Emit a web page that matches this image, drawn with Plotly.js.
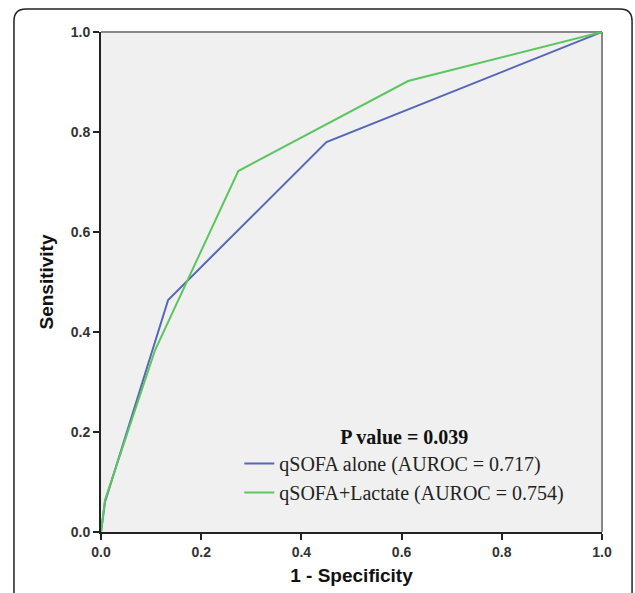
<!DOCTYPE html>
<html>
<head>
<meta charset="utf-8">
<script src="https://cdn.plot.ly/plotly-3.0.1.min.js"></script>
<style>html,body{margin:0;padding:0;background:#fff;}#chart{width:635px;height:593px;}</style>
</head>
<body>
<div id="chart"></div>
<script>
const seriesNames = ["qSOFA alone (AUROC = 0.717)", "qSOFA+Lactate (AUROC = 0.754)"];
const qsofaX = [0, 0.008, 0.134, 0.45, 1];
const qsofaY = [0, 0.06, 0.464, 0.78, 1];
const lactX = [0, 0.008, 0.108, 0.274, 0.613, 1];
const lactY = [0, 0.064, 0.364, 0.722, 0.902, 1];
const tickVals = [0, 0.2, 0.4, 0.6, 0.8, 1.0];
const tickText = ["0.0", "0.2", "0.4", "0.6", "0.8", "1.0"];

const traces = [
  {x: qsofaX, y: qsofaY, name: seriesNames[0], mode: 'lines', type: 'scatter',
   line: {color: '#5567b6', width: 2}, cliponaxis: false},
  {x: lactX, y: lactY, name: seriesNames[1], mode: 'lines', type: 'scatter',
   line: {color: '#5cc65e', width: 2}, cliponaxis: false}
];

const r = 0.024;
const L = -0.1737, R = 1.06, T = 1.046, B = -0.2;
const outerPath = `M ${L} ${B} L ${L} ${T - r} Q ${L} ${T} ${L + r} ${T} L ${R - r} ${T} Q ${R} ${T} ${R} ${T - r} L ${R} ${B}`;

const tickFont = {size: 14, color: '#333', family: 'Liberation Sans, Arial, sans-serif', weight: 'bold'};

const layout = {
  width: 635, height: 593,
  margin: {l: 101, r: 33, t: 32, b: 61},
  paper_bgcolor: '#ffffff',
  plot_bgcolor: '#f0f0f0',
  font: {family: 'Liberation Sans, Arial, sans-serif', color: '#222'},
  showlegend: true,
  legend: {
    x: 0.276, y: 0.228, xanchor: 'left', yanchor: 'top',
    bgcolor: 'rgba(0,0,0,0)',
    font: {family: 'Liberation Serif, Times New Roman, serif', size: 20, color: '#222'},
    title: {text: '<b>P value = 0.039</b>', side: 'top center',
            font: {family: 'Liberation Serif, Times New Roman, serif', size: 20, color: '#111'}},
    itemwidth: 30,
    tracegroupgap: 0
  },
  xaxis: {
    range: [0, 1], tickvals: tickVals, ticktext: tickText,
    showgrid: false, zeroline: false,
    showline: true, linecolor: '#222', linewidth: 2,
    ticks: 'outside', ticklen: 6, tickwidth: 2, tickcolor: '#222',
    tickfont: tickFont,
    title: {text: '<b>1 - Specificity</b>', font: {size: 19, color: '#111'}, standoff: 10},
    fixedrange: true
  },
  yaxis: {
    range: [0, 1], tickvals: tickVals, ticktext: tickText,
    showgrid: false, zeroline: false,
    showline: true, linecolor: '#222', linewidth: 2,
    ticks: 'outside', ticklen: 6, tickwidth: 2, tickcolor: '#222',
    tickfont: tickFont,
    title: {text: '<b>Sensitivity</b>', font: {size: 19, color: '#111'}, standoff: 12},
    fixedrange: true
  },
  shapes: [
    {type: 'line', xref: 'paper', yref: 'paper', x0: 0, x1: 1, y0: 1, y1: 1,
     line: {color: '#888', width: 2}, layer: 'below'},
    {type: 'line', xref: 'paper', yref: 'paper', x0: 1, x1: 1, y0: 0, y1: 1,
     line: {color: '#888', width: 2}, layer: 'below'},
    {type: 'path', xref: 'paper', yref: 'paper', path: outerPath,
     line: {color: '#222', width: 1.5}, fillcolor: 'rgba(0,0,0,0)'}
  ]
};

Plotly.newPlot('chart', traces, layout, {displayModeBar: false, staticPlot: true});
</script>
</body>
</html>
